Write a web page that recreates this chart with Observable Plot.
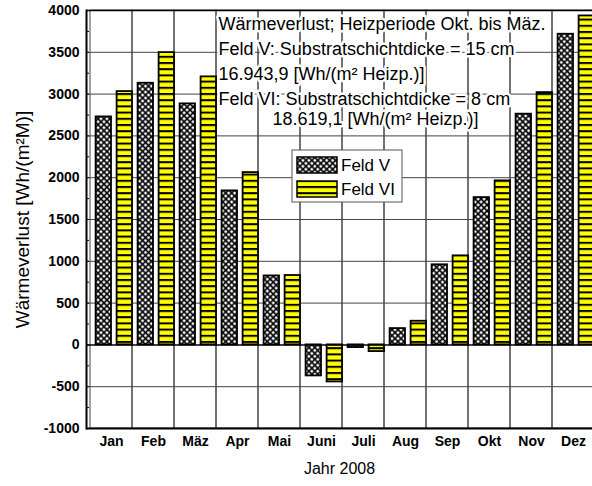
<!DOCTYPE html>
<html>
<head>
<meta charset="utf-8">
<script src="https://cdn.jsdelivr.net/npm/d3@7"></script>
<script src="https://cdn.jsdelivr.net/npm/@observablehq/plot@0.6"></script>
<style>
  html, body { margin: 0; padding: 0; background: white; }
</style>
</head>
<body>
<div id="chart"></div>
<script>
const months = ["Jan", "Feb", "Mäz", "Apr", "Mai", "Juni", "Juli", "Aug", "Sep", "Okt", "Nov", "Dez"];
const feldV  = [2727, 3130, 2883, 1842, 825, -371, -32, 195, 958, 1762, 2760, 3716];
const feldVI = [3030, 3496, 3206, 2061, 830, -443, -80, 283, 1065, 1962, 3018, 3935];
const yTicks = [-1000, -500, 0, 500, 1000, 1500, 2000, 2500, 3000, 3500, 4000];
const seriesNames = ["Feld V", "Feld VI"];
const annotationLines = [
  "Wärmeverlust; Heizperiode Okt. bis Mäz.",
  "Feld V: Substratschichtdicke = 15 cm",
  "16.943,9 [Wh/(m² Heizp.)]",
  "Feld VI: Substratschichtdicke = 8 cm"
];
const annotationLast = "18.619,1 [Wh/(m² Heizp.)]";
const yLabel = "Wärmeverlust [Wh/(m²M)]";
const xLabel = "Jahr 2008";

const data = months.map((m, i) => ({month: m, V: feldV[i], VI: feldVI[i]}));
const minorTicks = d3.range(-1000, 4001, 250);
const gridY = yTicks.filter(v => v > -1000 && v < 4000 && v !== 0);

const FONT = "'Liberation Sans', Arial, Helvetica, sans-serif";
const X0 = 86, X1 = 597.5;

const chart = Plot.plot({
  width: 592,
  height: 486,
  marginTop: 10,
  marginBottom: 58,
  marginLeft: 86,
  marginRight: 0,
  style: {fontFamily: FONT, background: "white", color: "black", overflow: "hidden"},
  x: {domain: months, range: [X0, X1], padding: 0, label: null},
  y: {domain: [-1000, 4000], label: null},
  marks: [
    // grid
    Plot.ruleY(gridY, {stroke: "#444", strokeWidth: 1}),
    Plot.barY(months, {x: d => d, y1: -1000, y2: 4000, fill: "none", stroke: "#444", strokeWidth: 1}),
    // annotation
    Plot.text([annotationLines.join("\n")], {
      text: d => d, frameAnchor: "top-left", textAnchor: "start", lineAnchor: "top",
      dx: 132, dy: 2, lineHeight: 1.39, fontSize: 18, fill: "black",
      stroke: "white", strokeWidth: 5
    }),
    Plot.text([annotationLast], {
      text: d => d, frameAnchor: "top-left", textAnchor: "start", lineAnchor: "top",
      dx: 186, dy: 102, fontSize: 18, fill: "black", stroke: "white", strokeWidth: 5
    }),
    // bars
    Plot.barY(data, {x: "month", y: "V", fill: "url(#crossV)", stroke: "black", strokeWidth: 1.8,
      insetLeft: 5.6, insetRight: 21}),
    Plot.barY(data, {x: "month", y: "VI", fill: "url(#stripeVI)", stroke: "black", strokeWidth: 1.8,
      insetLeft: 26.6, insetRight: 0}),
    // frame lines
    Plot.ruleY([0], {stroke: "black", strokeWidth: 1.5}),
    Plot.ruleY([4000], {stroke: "black", strokeWidth: 1.5}),
    Plot.ruleY([-1000], {stroke: "black", strokeWidth: 2}),
    Plot.frame({anchor: "left", stroke: "black", strokeWidth: 2}),
    // axes
    Plot.axisY(minorTicks, {tickSize: 3, dx: 3, tickFormat: () => "", stroke: "black"}),
    Plot.axisY(yTicks, {tickSize: 0, tickPadding: 7, fontSize: 14, fontWeight: "bold", label: null,
      tickFormat: d => String(d)}),
    Plot.axisX({tickSize: 0, tickPadding: 8, fontSize: 14, fontWeight: "bold", label: null}),
    Plot.text([yLabel], {text: d => d, frameAnchor: "left", textAnchor: "middle", rotate: -90, dx: -64, fontSize: 19}),
    Plot.text([xLabel], {text: d => d, frameAnchor: "bottom", lineAnchor: "middle", dy: 40, fontSize: 16})
  ]
});

const svg = d3.select(chart);
const defs = svg.insert("defs", ":first-child");
const T = 4.2;
const pv = defs.append("pattern").attr("id", "crossV").attr("patternUnits", "userSpaceOnUse")
  .attr("width", T).attr("height", T).attr("patternTransform", "rotate(45)");
pv.append("rect").attr("width", T).attr("height", T).attr("fill", "white");
pv.append("path").attr("d", `M0,${T/2}H${T}M${T/2},0V${T}`).attr("stroke", "black").attr("stroke-width", 1.6);
const ps = defs.append("pattern").attr("id", "stripeVI").attr("patternUnits", "userSpaceOnUse")
  .attr("width", 6).attr("height", 6.2);
ps.append("rect").attr("width", 6).attr("height", 6.2).attr("fill", "#ffff00");
ps.append("rect").attr("y", 0).attr("width", 6).attr("height", 2).attr("fill", "black");

// legend
const lg = svg.append("g").attr("font-family", FONT).attr("font-size", 17).attr("text-anchor", "start");
lg.append("rect").attr("x", 292).attr("y", 150).attr("width", 110).attr("height", 52)
  .attr("fill", "white").attr("stroke", "#555").attr("stroke-width", 1);
const fills = ["url(#crossV)", "url(#stripeVI)"];
seriesNames.forEach((name, i) => {
  const y = 157 + i * 24;
  lg.append("rect").attr("x", 297).attr("y", y).attr("width", 40).attr("height", 16)
    .attr("fill", fills[i]).attr("stroke", "black").attr("stroke-width", 1.5);
  lg.append("text").attr("x", 341).attr("y", y + 8).attr("dy", "0.35em").attr("fill", "black").text(name);
});

document.getElementById("chart").appendChild(chart);
</script>
</body>
</html>
